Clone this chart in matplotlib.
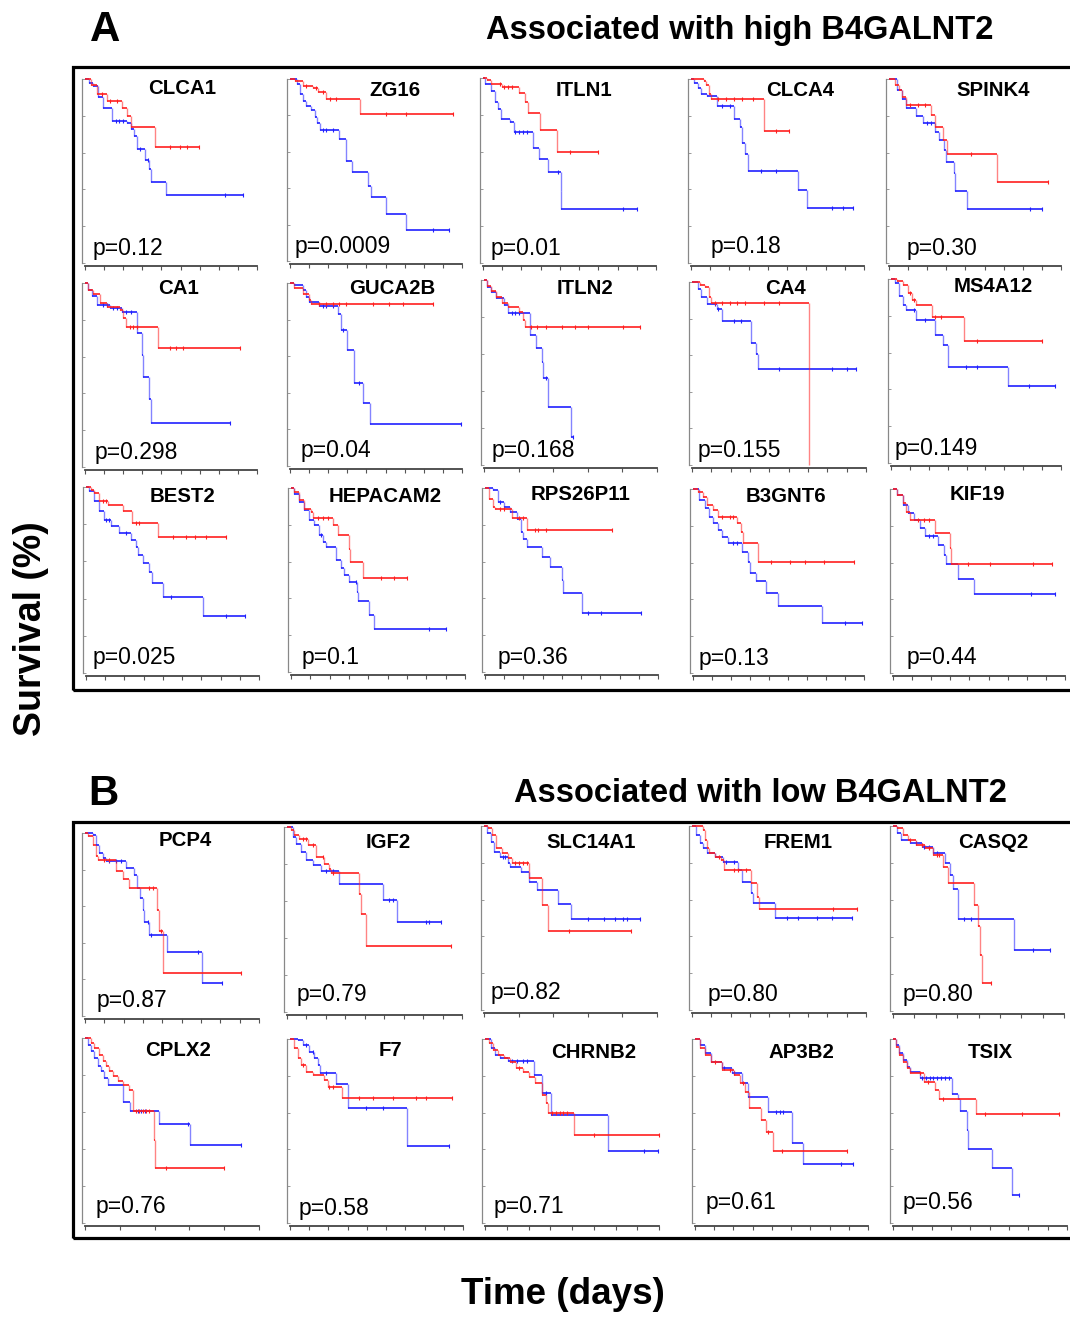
import matplotlib
matplotlib.use("Agg")
import matplotlib.pyplot as plt
from matplotlib.patches import Rectangle
from matplotlib import font_manager

# ---------------- data ----------------
genes_A = ["CLCA1", "ZG16", "ITLN1", "CLCA4", "SPINK4",
           "CA1", "GUCA2B", "ITLN2", "CA4", "MS4A12",
           "BEST2", "HEPACAM2", "RPS26P11", "B3GNT6", "KIF19"]
pvals_A = ["p=0.12", "p=0.0009", "p=0.01", "p=0.18", "p=0.30",
           "p=0.298", "p=0.04", "p=0.168", "p=0.155", "p=0.149",
           "p=0.025", "p=0.1", "p=0.36", "p=0.13", "p=0.44"]
genes_B = ["PCP4", "IGF2", "SLC14A1", "FREM1", "CASQ2",
           "CPLX2", "F7", "CHRNB2", "AP3B2", "TSIX"]
pvals_B = ["p=0.87", "p=0.79", "p=0.82", "p=0.80", "p=0.80",
           "p=0.76", "p=0.58", "p=0.71", "p=0.61", "p=0.56"]
xticks_A = [9, 9, 9, 9, 9, 9, 9, 5, 9, 9, 9, 9, 9, 9, 9]
xticks_B = [9, 9, 5, 9, 8, 5, 9, 8, 9, 9]

# Kaplan-Meier curves: (time, survival after drop); censor times
CLCA1_red = [(0.3, 0.97), (0.61, 0.92), (1.13, 0.88), (1.92, 0.84), (2.18, 0.80), (2.39, 0.74), (3.66, 0.63)]
CLCA1_red_c = [0.9, 1.3, 1.7, 4.45, 4.97, 5.36, 5.99]
CLCA1_blue = [(0.2, 0.98), (0.44, 0.96), (0.70, 0.90), (0.96, 0.84), (1.40, 0.77), (2.18, 0.76), (2.39, 0.73),
              (2.58, 0.69), (2.70, 0.62), (3.14, 0.56), (3.37, 0.51), (3.44, 0.44), (4.24, 0.37)]
CLCA1_blue_c = [1.6, 1.8, 2.0, 2.9, 3.3, 7.33, 8.29]

ZG16_red = [(0.24, 0.99), (0.68, 0.96), (1.20, 0.95), (1.46, 0.93), (1.90, 0.89), (3.64, 0.81)]
ZG16_red_c = [0.85, 1.37, 1.72, 2.07, 2.42, 5.03, 6.08, 8.52]
ZG16_blue = [(0.37, 0.97), (0.51, 0.92), (0.68, 0.88), (0.85, 0.85), (1.11, 0.83), (1.29, 0.79), (1.41, 0.76),
             (1.55, 0.72), (2.56, 0.67), (2.94, 0.55), (3.26, 0.49), (4.08, 0.41), (4.22, 0.35), (5.03, 0.26),
             (6.08, 0.17)]
ZG16_blue_c = [1.72, 1.9, 2.25, 7.47, 8.31]

ITLN1_red = [(0.2, 0.99), (0.4, 0.97), (1.0, 0.95), (1.89, 0.92), (2.19, 0.87), (2.33, 0.81), (2.99, 0.72), (3.84, 0.60)]
ITLN1_red_c = [0.9, 1.1, 1.29, 1.49, 4.52, 5.98]
ITLN1_blue = [(0.1, 0.97), (0.4, 0.93), (0.6, 0.87), (0.8, 0.83), (0.94, 0.78), (1.39, 0.76), (1.59, 0.71),
              (2.59, 0.62), (2.93, 0.56), (3.39, 0.49), (4.04, 0.39), (4.08, 0.29)]
ITLN1_blue_c = [1.69, 1.89, 2.09, 2.29, 3.88, 7.27, 8.0]

CLCA4_red = [(0.68, 0.99), (0.80, 0.97), (0.94, 0.92), (1.04, 0.89), (3.78, 0.715)]
CLCA4_red_c = [1.43, 1.83, 2.23, 2.63, 3.23, 4.42, 5.12]
CLCA4_blue = [(0.14, 0.98), (0.34, 0.95), (0.54, 0.92), (0.84, 0.905), (1.33, 0.854), (2.23, 0.78), (2.53, 0.74),
              (2.67, 0.65), (2.83, 0.59), (2.99, 0.50), (5.58, 0.395), (6.02, 0.30)]
CLCA4_blue_c = [1.63, 2.03, 3.63, 4.42, 7.31, 7.91, 8.41]

SPINK4_red = [(0.3, 0.97), (0.5, 0.94), (0.7, 0.90), (0.9, 0.86), (2.2, 0.805), (2.4, 0.74), (2.8, 0.67),
              (3.06, 0.59), (5.66, 0.44)]
SPINK4_red_c = [1.1, 1.5, 1.9, 4.3, 8.3]
SPINK4_blue = [(0.4, 0.94), (0.7, 0.89), (0.9, 0.84), (1.4, 0.80), (1.8, 0.76), (2.4, 0.71), (2.6, 0.67),
               (2.9, 0.615), (3.0, 0.55), (3.4, 0.49), (3.46, 0.39), (4.06, 0.295)]
SPINK4_blue_c = [2.0, 2.2, 7.4, 8.0]

CA1_red = [(0.17, 0.96), (0.43, 0.94), (0.78, 0.89), (1.13, 0.87), (1.83, 0.855), (2.0, 0.81), (2.17, 0.76), (3.83, 0.645)]
CA1_red_c = [2.35, 2.52, 2.7, 4.43, 4.78, 5.13, 8.09]
CA1_blue = [(0.17, 0.96), (0.35, 0.93), (0.61, 0.88), (1.3, 0.864), (1.91, 0.845), (2.7, 0.73), (2.96, 0.61),
            (3.01, 0.49), (3.36, 0.37), (3.43, 0.24)]
CA1_blue_c = [0.96, 1.13, 1.48, 1.65, 2.17, 2.43, 7.57]

GUCA2B_red = [(0.23, 0.97), (0.66, 0.94), (1.01, 0.905), (1.10, 0.887)]
GUCA2B_red_c = [1.54, 1.89, 2.23, 2.58, 2.93, 4.33, 5.2, 5.9, 7.47]
GUCA2B_blue = [(0.23, 0.987), (0.66, 0.96), (0.84, 0.924), (1.01, 0.896), (1.54, 0.873), (2.53, 0.833),
               (2.67, 0.742), (2.97, 0.633), (3.37, 0.451), (3.84, 0.342), (4.19, 0.229)]
GUCA2B_blue_c = [1.71, 1.89, 2.23, 2.76, 3.63, 8.95]

ITLN2_red = [(0.08, 0.97), (0.19, 0.94), (0.36, 0.91), (0.52, 0.874), (0.69, 0.856), (1.02, 0.829), (1.13, 0.784),
             (1.19, 0.748)]
ITLN2_red_c = [1.36, 1.52, 1.8, 2.24, 2.63, 3.02, 4.02, 4.52]
ITLN2_blue = [(0.08, 0.964), (0.19, 0.937), (0.36, 0.901), (0.58, 0.865), (0.69, 0.82), (1.33, 0.703),
              (1.49, 0.631), (1.67, 0.559), (1.71, 0.468), (1.86, 0.312), (2.52, 0.153)]
ITLN2_blue_c = [0.8, 0.91, 1.02, 1.80, 2.56]

CA4_red = [(0.39, 0.982), (0.69, 0.973), (0.88, 0.918), (0.98, 0.885), (6.04, 0.0)]
CA4_red_c = [1.18, 1.57, 1.96, 2.35, 2.75, 3.73, 4.51]
CA4_blue = [(0.29, 0.964), (0.49, 0.918), (0.78, 0.882), (1.27, 0.855), (1.57, 0.785), (3.04, 0.664),
            (3.29, 0.609), (3.43, 0.524)]
CA4_blue_c = [1.18, 1.37, 2.16, 2.55, 4.51, 7.25, 8.04, 8.49]

MS4A12_red = [(0.3, 0.987), (0.61, 0.969), (0.91, 0.924), (1.11, 0.887), (1.32, 0.86), (2.19, 0.796), (3.85, 0.664)]
MS4A12_red_c = [1.01, 1.21, 2.33, 2.63, 4.55, 8.0]
MS4A12_blue = [(0.2, 0.978), (0.4, 0.905), (0.61, 0.86), (0.81, 0.833), (1.32, 0.778), (2.33, 0.696),
               (2.73, 0.642), (3.0, 0.524), (6.17, 0.418)]
MS4A12_blue_c = [1.21, 1.82, 3.95, 4.55, 7.29, 8.66]

BEST2_red = [(0.26, 0.986), (0.43, 0.968), (0.7, 0.926), (1.13, 0.901), (1.91, 0.872), (2.4, 0.809), (3.74, 0.73)]
BEST2_red_c = [0.87, 1.04, 2.61, 2.78, 4.52, 5.22, 5.65, 6.26, 7.3]
BEST2_blue = [(0.17, 0.977), (0.43, 0.923), (0.7, 0.869), (0.96, 0.824), (1.3, 0.788), (1.74, 0.752),
              (2.35, 0.716), (2.61, 0.68), (2.7, 0.635), (2.99, 0.59), (3.3, 0.545), (3.44, 0.482),
              (4.0, 0.41), (6.09, 0.308)]
BEST2_blue_c = [1.04, 1.22, 2.09, 4.43, 7.3, 8.26]

HEPACAM2_red = [(0.17, 0.978), (0.43, 0.933), (0.69, 0.888), (1.03, 0.87), (1.16, 0.838), (2.19, 0.798),
                (2.41, 0.747), (3.02, 0.671), (3.05, 0.599), (3.71, 0.513)]
HEPACAM2_red_c = [1.38, 1.64, 1.9, 4.66, 5.34, 6.0]
HEPACAM2_blue = [(0.17, 0.969), (0.43, 0.924), (0.69, 0.879), (0.95, 0.825), (1.21, 0.798), (1.47, 0.744),
                 (1.64, 0.708), (1.81, 0.68), (2.33, 0.608), (2.59, 0.563), (2.76, 0.527), (3.02, 0.487),
                 (3.4, 0.437), (3.45, 0.386), (4.02, 0.31), (4.28, 0.235)]
HEPACAM2_blue_c = [1.55, 3.36, 7.16, 8.02]

RPS26P11_red = [(0.2, 0.942), (0.4, 0.897), (0.5, 0.888), (1.39, 0.837), (2.19, 0.774)]
RPS26P11_red_c = [0.8, 0.99, 1.79, 1.99, 2.58, 2.78, 3.18, 6.6]
RPS26P11_blue = [(0.4, 0.987), (0.7, 0.924), (0.99, 0.897), (1.29, 0.87), (1.69, 0.834), (1.89, 0.761),
                 (1.99, 0.725), (2.19, 0.68), (2.98, 0.626), (3.38, 0.571), (3.98, 0.499), (4.08, 0.427),
                 (5.03, 0.318)]
RPS26P11_blue_c = [0.8, 5.37, 6.06, 8.09]

B3GNT6_red = [(0.24, 0.985), (0.54, 0.958), (0.74, 0.913), (1.03, 0.886), (1.29, 0.849), (2.29, 0.813),
              (2.52, 0.768), (2.62, 0.704), (3.42, 0.601)]
B3GNT6_red_c = [1.53, 1.93, 2.13, 4.12, 5.11, 5.9, 6.9, 8.49]
B3GNT6_blue = [(0.34, 0.94), (0.64, 0.895), (0.83, 0.849), (1.03, 0.813), (1.33, 0.777), (1.53, 0.74),
               (1.83, 0.704), (2.56, 0.659), (2.88, 0.604), (3.02, 0.541), (3.32, 0.499), (3.82, 0.437),
               (4.47, 0.365), (6.8, 0.274)]
B3GNT6_blue_c = [2.13, 2.33, 7.99, 8.89]

KIF19_red = [(0.2, 0.967), (0.5, 0.922), (0.7, 0.877), (0.9, 0.831), (2.2, 0.759), (3.0, 0.677), (3.06, 0.59)]
KIF19_red_c = [1.3, 1.6, 1.9, 3.9, 5.1, 7.3, 8.3]
KIF19_blue = [(0.2, 0.967), (0.5, 0.913), (0.8, 0.868), (1.1, 0.831), (1.4, 0.786), (1.7, 0.746), (2.34, 0.695),
              (2.66, 0.641), (2.76, 0.59), (3.4, 0.51), (4.26, 0.43)]
KIF19_blue_c = [1.9, 2.1, 7.2, 8.5]

PCP4_red = [(0.14, 0.982), (0.4, 0.936), (0.57, 0.872), (0.66, 0.854), (1.61, 0.79), (1.95, 0.748), (2.3, 0.699),
            (3.71, 0.58), (3.85, 0.462), (4.02, 0.234)]
PCP4_red_c = [1.0, 1.26, 3.33, 3.51, 3.94, 8.08]
PCP4_blue = [(0.4, 0.991), (0.57, 0.936), (0.74, 0.891), (0.92, 0.863), (1.09, 0.845), (2.12, 0.808),
             (2.56, 0.772), (2.68, 0.699), (2.82, 0.644), (2.99, 0.58), (3.07, 0.516), (3.33, 0.443),
             (4.25, 0.352), (6.06, 0.179)]
PCP4_blue_c = [1.26, 1.61, 1.87, 3.25, 3.42, 5.84, 7.08]

IGF2_red = [(0.21, 0.982), (0.38, 0.955), (0.63, 0.937), (1.06, 0.901), (1.49, 0.838), (1.92, 0.802),
            (2.18, 0.775), (2.26, 0.751), (3.69, 0.64), (3.81, 0.528), (4.07, 0.355)]
IGF2_red_c = [0.81, 0.98, 1.32, 1.84, 2.35, 8.44]
IGF2_blue = [(0.29, 0.946), (0.46, 0.91), (0.72, 0.865), (0.98, 0.82), (1.32, 0.793), (1.75, 0.762),
             (2.69, 0.694), (4.92, 0.604), (5.64, 0.486)]
IGF2_blue_c = [2.01, 2.35, 5.27, 5.44, 7.15, 7.32, 7.92]

SLC14A1_red = [(0.13, 0.987), (0.24, 0.951), (0.36, 0.879), (0.52, 0.852), (0.69, 0.825), (0.8, 0.797),
               (1.3, 0.716), (1.69, 0.571), (1.86, 0.427)]
SLC14A1_red_c = [0.91, 1.02, 1.13, 1.24, 2.47, 4.24]
SLC14A1_blue = [(0.08, 0.96), (0.19, 0.915), (0.3, 0.861), (0.47, 0.834), (0.69, 0.797), (0.74, 0.779),
                (1.08, 0.752), (1.3, 0.698), (1.52, 0.653), (2.13, 0.577), (2.52, 0.495)]
SLC14A1_blue_c = [0.55, 0.62, 3.02, 3.47, 3.8, 4.02, 4.13, 4.5]

FREM1_red = [(0.59, 0.978), (0.69, 0.924), (0.79, 0.879), (0.89, 0.851), (1.19, 0.833), (1.48, 0.815),
             (1.68, 0.761), (3.06, 0.688), (3.36, 0.616), (3.46, 0.547)]
FREM1_red_c = [1.38, 2.17, 2.37, 2.77, 7.31, 8.56]
FREM1_blue = [(0.2, 0.951), (0.4, 0.906), (0.59, 0.879), (0.79, 0.851), (1.19, 0.833), (1.58, 0.806),
              (2.37, 0.761), (2.61, 0.697), (3.06, 0.634), (3.16, 0.583), (4.31, 0.498)]
FREM1_blue_c = [1.78, 2.17, 4.9, 5.49, 6.47, 7.25, 8.26]

CASQ2_red = [(0.18, 0.987), (0.45, 0.951), (0.72, 0.924), (1.07, 0.897), (1.52, 0.879), (1.88, 0.843),
             (2.33, 0.78), (2.59, 0.69), (3.81, 0.572), (3.99, 0.458), (4.06, 0.301), (4.17, 0.152)]
CASQ2_red_c = [0.81, 1.34, 1.7, 2.06, 2.15, 4.6]
CASQ2_blue = [(0.18, 0.96), (0.36, 0.924), (0.81, 0.906), (1.34, 0.888), (1.88, 0.852), (2.42, 0.798),
              (2.68, 0.735), (2.81, 0.662), (3.04, 0.495), (5.64, 0.329)]
CASQ2_blue_c = [1.07, 1.43, 1.7, 2.06, 3.31, 3.67, 6.53, 7.33]

CPLX2_red = [(0.17, 0.973), (0.27, 0.946), (0.41, 0.91), (0.51, 0.873), (0.6, 0.846), (0.7, 0.819), (0.8, 0.792),
             (0.94, 0.765), (1.08, 0.747), (1.26, 0.72), (1.37, 0.606), (1.98, 0.448), (2.02, 0.298)]
CPLX2_red_c = [1.47, 1.56, 1.66, 1.75, 1.85, 2.33, 3.98]
CPLX2_blue = [(0.08, 0.964), (0.17, 0.928), (0.27, 0.892), (0.36, 0.846), (0.46, 0.819), (0.56, 0.783),
              (0.65, 0.747), (1.1, 0.656), (1.28, 0.606), (2.12, 0.533), (3.02, 0.421)]
CPLX2_blue_c = [1.52, 1.61, 1.71, 2.96, 4.49]

F7_red = [(0.23, 0.949), (0.4, 0.895), (0.57, 0.859), (0.83, 0.823), (1.18, 0.805), (1.79, 0.778), (1.96, 0.741),
          (2.71, 0.682)]
F7_red_c = [0.66, 2.05, 2.22, 3.6, 4.3, 5.34, 6.56, 7.08, 8.44]
F7_blue = [(0.4, 0.995), (0.66, 0.967), (1.01, 0.931), (1.27, 0.895), (1.44, 0.859), (1.56, 0.814), (2.4, 0.754),
           (3.04, 0.627), (6.08, 0.421)]
F7_blue_c = [0.83, 1.18, 1.88, 3.96, 4.82, 8.26]

CHRNB2_red = [(0.18, 0.976), (0.35, 0.94), (0.62, 0.913), (0.88, 0.895), (1.14, 0.877), (1.41, 0.841),
              (1.76, 0.823), (2.02, 0.796), (2.28, 0.76), (2.64, 0.696), (2.81, 0.651), (2.9, 0.597), (4.08, 0.476)]
CHRNB2_red_c = [1.58, 3.07, 3.25, 3.43, 3.6, 3.78, 5.01, 8.0]
CHRNB2_blue = [(0.26, 0.949), (0.44, 0.913), (0.7, 0.895), (1.05, 0.881), (2.25, 0.805), (2.6, 0.705),
               (3.02, 0.588), (5.66, 0.392)]
CHRNB2_blue_c = [1.23, 1.49, 1.76, 1.93, 2.81, 7.29, 7.96]

AP3B2_red = [(0.24, 0.949), (0.53, 0.913), (0.83, 0.877), (1.43, 0.832), (2.02, 0.805), (2.32, 0.76),
             (2.61, 0.714), (2.81, 0.627), (3.41, 0.56), (3.7, 0.494), (4.04, 0.392)]
AP3B2_red_c = [1.03, 1.82, 2.51, 3.8, 4.5, 7.92]
AP3B2_blue = [(0.24, 0.967), (0.53, 0.922), (0.83, 0.877), (1.43, 0.841), (1.92, 0.814), (2.42, 0.76),
              (2.77, 0.687), (3.8, 0.602), (5.03, 0.434), (5.62, 0.32)]
AP3B2_blue_c = [1.53, 2.02, 4.2, 4.4, 4.6, 7.58, 8.22]

TSIX_red = [(0.14, 0.958), (0.3, 0.913), (0.5, 0.877), (0.7, 0.841), (0.89, 0.814), (1.59, 0.769), (2.19, 0.723),
            (2.39, 0.675), (4.31, 0.591)]
TSIX_red_c = [1.39, 1.79, 2.58, 4.77, 6.66, 8.61]
TSIX_blue = [(0.14, 0.967), (0.3, 0.922), (0.5, 0.886), (0.7, 0.85), (0.89, 0.823), (1.39, 0.79), (3.04, 0.7),
             (3.38, 0.675), (3.48, 0.609), (3.82, 0.506), (3.88, 0.403), (5.13, 0.298), (6.16, 0.15)]
TSIX_blue_c = [1.49, 1.69, 1.89, 2.09, 2.29, 2.49, 2.68, 2.88, 6.52]

curves_A = [
    (CLCA1_red, CLCA1_red_c, CLCA1_blue, CLCA1_blue_c),
    (ZG16_red, ZG16_red_c, ZG16_blue, ZG16_blue_c),
    (ITLN1_red, ITLN1_red_c, ITLN1_blue, ITLN1_blue_c),
    (CLCA4_red, CLCA4_red_c, CLCA4_blue, CLCA4_blue_c),
    (SPINK4_red, SPINK4_red_c, SPINK4_blue, SPINK4_blue_c),
    (CA1_red, CA1_red_c, CA1_blue, CA1_blue_c),
    (GUCA2B_red, GUCA2B_red_c, GUCA2B_blue, GUCA2B_blue_c),
    (ITLN2_red, ITLN2_red_c, ITLN2_blue, ITLN2_blue_c),
    (CA4_red, CA4_red_c, CA4_blue, CA4_blue_c),
    (MS4A12_red, MS4A12_red_c, MS4A12_blue, MS4A12_blue_c),
    (BEST2_red, BEST2_red_c, BEST2_blue, BEST2_blue_c),
    (HEPACAM2_red, HEPACAM2_red_c, HEPACAM2_blue, HEPACAM2_blue_c),
    (RPS26P11_red, RPS26P11_red_c, RPS26P11_blue, RPS26P11_blue_c),
    (B3GNT6_red, B3GNT6_red_c, B3GNT6_blue, B3GNT6_blue_c),
    (KIF19_red, KIF19_red_c, KIF19_blue, KIF19_blue_c),
]
curves_B = [
    (PCP4_red, PCP4_red_c, PCP4_blue, PCP4_blue_c),
    (IGF2_red, IGF2_red_c, IGF2_blue, IGF2_blue_c),
    (SLC14A1_red, SLC14A1_red_c, SLC14A1_blue, SLC14A1_blue_c),
    (FREM1_red, FREM1_red_c, FREM1_blue, FREM1_blue_c),
    (CASQ2_red, CASQ2_red_c, CASQ2_blue, CASQ2_blue_c),
    (CPLX2_red, CPLX2_red_c, CPLX2_blue, CPLX2_blue_c),
    (F7_red, F7_red_c, F7_blue, F7_blue_c),
    (CHRNB2_red, CHRNB2_red_c, CHRNB2_blue, CHRNB2_blue_c),
    (AP3B2_red, AP3B2_red_c, AP3B2_blue, AP3B2_blue_c),
    (TSIX_red, TSIX_red_c, TSIX_blue, TSIX_blue_c),
]

# ---------------- layout (pixels) ----------------
W, H = 1070, 1317
# per panel: x at t=0, x at axis end, y at S=1, y at S=0
layout_A = [
    (85, 257, 79, 263), (290, 462, 79, 261), (483, 656, 78, 263), (691, 864, 79, 263), (889, 1061, 79, 263),
    (85, 257, 283, 467), (290, 462, 283, 466), (484, 657, 280, 465), (692, 866, 282, 465), (891, 1061, 279, 463),
    (86, 259, 487, 673), (291, 465, 488, 672), (485, 658, 488, 672), (693, 864, 489, 673), (893, 1065, 489, 673),
]
layout_B = [
    (85, 259, 833, 1016), (287, 462, 827, 1012), (484, 657, 826, 1010), (692, 866, 826, 1010), (893, 1064, 826, 1011),
    (85, 259, 1038, 1223), (290, 463, 1039, 1223), (485, 659, 1039, 1223), (695, 868, 1039, 1223), (893, 1067, 1039, 1223),
]
title_pos_A = [(182, 89), (395, 91), (584, 90), (800, 90), (993, 90),
               (179, 288), (392, 288), (585, 288), (786, 288), (993, 287),
               (182, 496), (385, 496), (581, 495), (786, 497), (977, 495)]
pval_pos_A = [(93, 249), (295, 247), (491, 248), (711, 246), (907, 249),
              (95, 453), (301, 451), (492, 451), (698, 450), (895, 448),
              (93, 657), (302, 657), (498, 657), (699, 659), (907, 657)]
title_pos_B = [(185, 841), (388, 842), (591, 843), (798, 842), (993, 842),
               (178, 1050), (390, 1050), (594, 1052), (801, 1052), (990, 1052)]
pval_pos_B = [(97, 1000), (297, 994), (491, 993), (708, 994), (903, 994),
              (96, 1207), (299, 1209), (494, 1206), (706, 1203), (903, 1203)]

RED = "#ff1f1f"
BLUE = "#2020ff"


def has_font(name):
    try:
        font_manager.findfont(font_manager.FontProperties(family=name), fallback_to_default=False)
        return True
    except Exception:
        return False


NARROW = "Liberation Sans Narrow" if has_font("Liberation Sans Narrow") else None
WIDE = "Liberation Sans" if has_font("Liberation Sans") else "DejaVu Sans"
if NARROW:
    narrow_fam, narrow_scale = [NARROW, "DejaVu Sans"], 1.0
else:
    narrow_fam, narrow_scale = [WIDE, "DejaVu Sans"], 0.84

fig = plt.figure(figsize=(W / 100, H / 100), dpi=100)


def fx(x):
    return x / W


def fy(y):
    return 1 - y / H


def surv_at(steps, t):
    cur = 1.0
    for tt, s in steps:
        if tt <= t:
            cur = s
    return cur


def draw_km(ax, steps, cens, col):
    # horizontal runs (solid) and vertical drops (lighter, as in the source figure)
    h_y, h_x0, h_x1 = [], [], []
    v_x, v_y0, v_y1 = [], [], []
    t_prev, cur = 0.0, 1.0
    for t, s in steps:
        h_y.append(cur); h_x0.append(t_prev); h_x1.append(t)
        v_x.append(t); v_y0.append(cur); v_y1.append(s)
        t_prev, cur = t, s
    end = max([steps[-1][0]] + list(cens))
    if end > t_prev:
        h_y.append(cur); h_x0.append(t_prev); h_x1.append(end)
    ax.hlines(h_y, h_x0, h_x1, colors=col, lw=1.2, clip_on=False)
    ax.vlines(v_x, v_y0, v_y1, colors=col, lw=1.0, alpha=0.55, clip_on=False)
    ax.plot(cens, [surv_at(steps, c) for c in cens], linestyle="none", marker="|",
            ms=3.5, mew=0.8, color=col, clip_on=False)


def draw_panel(box, nint, curves):
    x0, x1, ytop, ybot = box
    ax = fig.add_axes([fx(x0), fy(ybot), (x1 - x0) / W, (ybot - ytop) / H])
    ax.set_xlim(0, nint)
    ax.set_ylim(0, 1)
    red, red_c, blue, blue_c = curves
    draw_km(ax, blue, blue_c, BLUE)
    draw_km(ax, red, red_c, RED)
    ax.set_xticks(range(0, nint + 1))
    ax.set_yticks([0, 0.2, 0.4, 0.6, 0.8, 1.0])
    ax.set_xticklabels([])
    ax.set_yticklabels([])
    for s in ("top", "right"):
        ax.spines[s].set_visible(False)
    ax.spines["left"].set_position(("outward", 2.5))
    ax.spines["bottom"].set_position(("outward", 2.2))
    ax.spines["left"].set_color("#888888")
    ax.spines["left"].set_linewidth(0.9)
    ax.spines["bottom"].set_color("#444444")
    ax.spines["bottom"].set_linewidth(1.3)
    ax.tick_params(axis="x", direction="out", length=3, width=0.8, color="#555555")
    ax.tick_params(axis="y", direction="in", length=2, width=0.7, color="#999999")
    ax.patch.set_alpha(0)
    return ax


for i in range(15):
    draw_panel(layout_A[i], xticks_A[i], curves_A[i])
    tx, ty = title_pos_A[i]
    fig.text(fx(tx), fy(ty), genes_A[i], ha="center", va="center", fontsize=17.5 * narrow_scale,
             fontweight="bold", family=narrow_fam)
    px, py = pval_pos_A[i]
    fig.text(fx(px), fy(py), pvals_A[i], ha="left", va="center", fontsize=16.5, family=[WIDE, "DejaVu Sans"])

for i in range(10):
    draw_panel(layout_B[i], xticks_B[i], curves_B[i])
    tx, ty = title_pos_B[i]
    fig.text(fx(tx), fy(ty), genes_B[i], ha="center", va="center", fontsize=17.5 * narrow_scale,
             fontweight="bold", family=narrow_fam)
    px, py = pval_pos_B[i]
    fig.text(fx(px), fy(py), pvals_B[i], ha="left", va="center", fontsize=16.5, family=[WIDE, "DejaVu Sans"])

# frames
for top, bot in ((67, 690), (822, 1238)):
    fig.patches.append(Rectangle((fx(73), fy(bot)), fx(1085) - fx(73), fy(top) - fy(bot),
                                 transform=fig.transFigure, fill=False, lw=2.3, ec="black"))

# big labels
fig.text(fx(90), fy(30), "A", ha="left", va="center", fontsize=36 * narrow_scale, fontweight="bold", family=narrow_fam)
fig.text(fx(88), fy(794), "B", ha="left", va="center", fontsize=36 * narrow_scale, fontweight="bold", family=narrow_fam)
fig.text(fx(740), fy(30), "Associated with high B4GALNT2", ha="center", va="center", fontsize=23.5,
         fontweight="bold", family=[WIDE, "DejaVu Sans"])
fig.text(fx(760), fy(793), "Associated with low B4GALNT2", ha="center", va="center", fontsize=23.5,
         fontweight="bold", family=[WIDE, "DejaVu Sans"])
fig.text(fx(31), fy(629), "Survival (%)", ha="center", va="center", rotation=90, fontsize=27,
         fontweight="bold", family=[WIDE, "DejaVu Sans"])
fig.text(fx(563), fy(1295), "Time (days)", ha="center", va="center", fontsize=26.5,
         fontweight="bold", family=[WIDE, "DejaVu Sans"])

fig.savefig("out.png", dpi=100, facecolor="white")
